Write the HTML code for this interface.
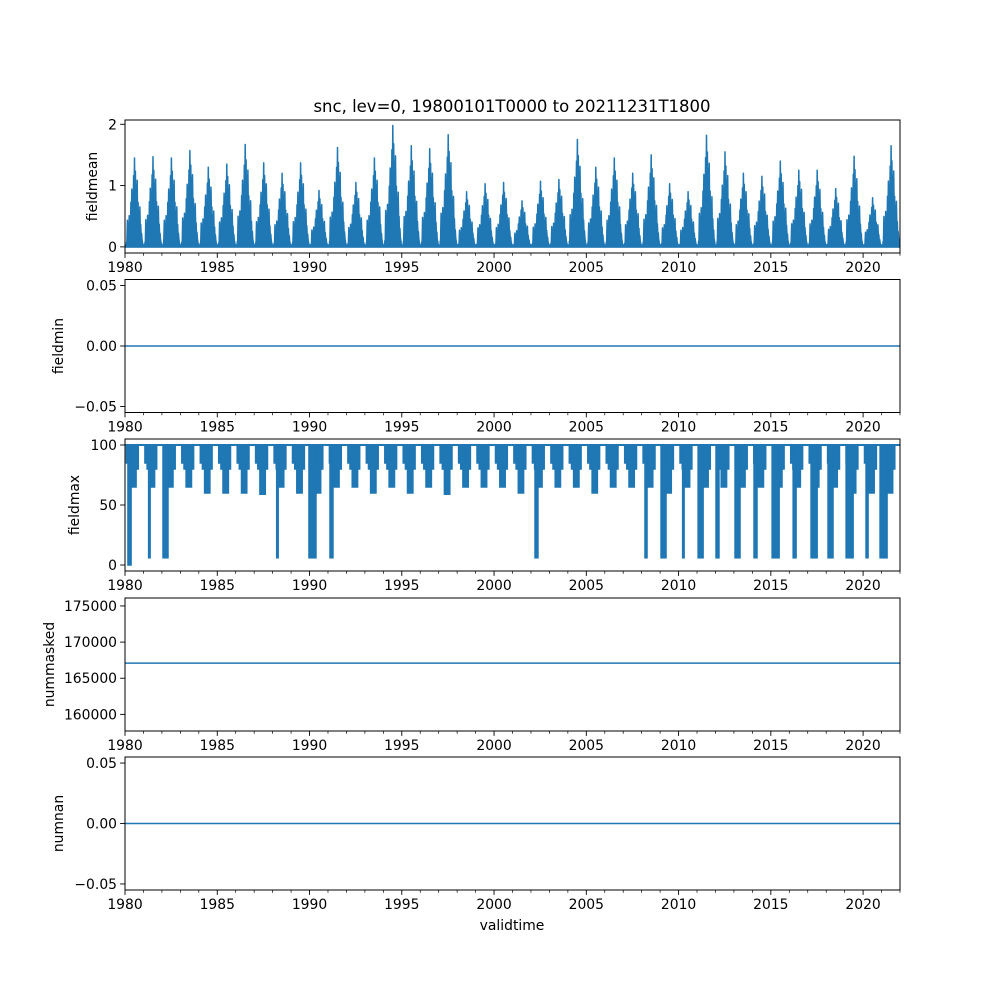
<!DOCTYPE html>
<html><head><meta charset="utf-8">
<style>
body{margin:0;background:#fff;}
svg{display:block;font-family:"DejaVu Sans","Liberation Sans",sans-serif;}
</style></head>
<body>
<svg id="fig" width="1000" height="1000" viewBox="0 0 1000 1000">
<rect width="1000" height="1000" fill="#fff"/>
<text x="512" y="112" font-size="16.5" text-anchor="middle">snc, lev=0, 19800101T0000 to 20211231T1800</text>
</svg>
<script>
// ---- data ----
const years = [1980,1981,1982,1983,1984,1985,1986,1987,1988,1989,1990,1991,1992,1993,1994,1995,1996,1997,1998,1999,2000,2001,2002,2003,2004,2005,2006,2007,2008,2009,2010,2011,2012,2013,2014,2015,2016,2017,2018,2019,2020,2021];
const meanPeaks = [1.45,1.47,1.45,1.57,1.3,1.35,1.67,1.37,1.2,1.37,0.92,1.62,1.05,1.45,1.98,1.65,1.6,1.83,0.9,1.03,1.05,0.75,1.07,1.1,1.75,1.3,1.45,1.2,1.5,1.03,0.9,1.82,1.55,1.2,1.15,1.4,1.25,1.25,0.95,1.48,0.8,1.65];
const seasonShape = [0.05,0.3,0.2,0.35,0.25,0.5,0.65,0.6,0.8,1.0,0.85,0.7,0.75,0.5,0.4,0.45,0.25,0.15,0.05];
const maxLevels = [65,65,65,65,60,60,60,59,65,60,60,65,65,60,65,60,65,59,65,65,65,60,65,65,65,60,65,65,65,60,65,65,65,65,65,65,65,65,65,60,60,60];
const maxShape = [100,85,85,80,80,0,0,0,0,0,80,80,100];
const deepStart = [1980.16,1981.28,1982.06,1988.22,1989.97,1991.11,2002.22,2008.18,2009.05,2010.22,2011.06,2012.03,2013.06,2014.09,2015.07,2016.21,2017.18,2018.10,2019.08,2020.16,2020.92];
const deepEnd   = [1980.33,1981.34,1982.33,1988.29,1990.35,1991.27,2002.38,2008.29,2009.32,2010.28,2011.33,2012.19,2013.33,2014.25,2015.45,2016.37,2017.51,2018.37,2019.46,2020.27,2021.30];
const deepMin   = [0,6,6,6,6,6,6,6,6,6,6,6,6,6,6,6,6,6,6,6,6];
const minVal = 0, nummaskedVal = 167083, numnanVal = 0;
const xTicks = [1980,1985,1990,1995,2000,2005,2010,2015,2020];

const NS='http://www.w3.org/2000/svg';
const svg=document.getElementById('fig');
const C='#1f77b4';
const L=125,R=900,X0=1980,X1=2022;
const xs=v=>L+(v-X0)/(X1-X0)*(R-L);
function el(tag,attrs,parent){const e=document.createElementNS(NS,tag);for(const k in attrs)e.setAttribute(k,attrs[k]);(parent||svg).appendChild(e);return e;}

function panel(name,top,bot,y0,y1,yticks,ylabels,ylab,draw){
  const g=el('g',{});
  
  
  const ys=v=>bot-(v-y0)/(y1-y0)*(bot-top);
  const clip=el('clipPath',{id:'c'+name},g);
  el('rect',{x:L,y:top,width:R-L,height:bot-top},clip);
  const dg=el('g',{'clip-path':'url(#c'+name+')'},g);
  
  
  draw(dg,ys);
  const fr=el('rect',{x:L,y:top,width:R-L,height:bot-top,fill:'none',stroke:'#000','stroke-width':1},g);
  
  
  for(let y=1980;y<=2022;y++){
    const x=xs(y);const maj=xTicks.includes(y);
    el('line',{x1:x,x2:x,y1:bot,y2:bot+(maj?4.9:2.8),stroke:'#000','stroke-width':maj?0.9:0.7},g);
  }
  xTicks.forEach(t=>{const tx=el('text',{x:xs(t),y:bot+19,'font-size':13.9,'text-anchor':'middle'},g);tx.textContent=t;
    
    });
  yticks.forEach((t,i)=>{const y=ys(t);el('line',{x1:L,x2:L-4.9,y1:y,y2:y,stroke:'#000','stroke-width':0.9},g);
    const tx=el('text',{x:L-8,y:y+5,'font-size':13.9,'text-anchor':'end'},g);tx.textContent=ylabels[i];
    
    });
  const lx=ylab.x,ly=(top+bot)/2;
  const yl=el('text',{x:lx,y:ly,'font-size':13.9,'text-anchor':'middle',transform:`rotate(-90 ${lx} ${ly})`},g);
  yl.textContent=ylab.t;
  
  
}

// Panel 1 fieldmean
panel('fieldmean',120,253,-0.1,2.07,[0,1,2],['0','1','2'],{x:97,t:'fieldmean'},(g,ys)=>{
  let pts=[[X0,0.03]];
  years.forEach((yr,i)=>{
    const s=yr+0.08,e=yr+0.95,n=seasonShape.length;
    pts.push([s,0.03]);
    seasonShape.forEach((f,j)=>{const t=s+(e-s)*j/(n-1);pts.push([t,f*meanPeaks[i]]);pts.push([t+0.02,f*meanPeaks[i]*0.55]);});
    pts.push([e+0.02,0.03]);
  });
  pts.push([X1,0.03]);
  const d='M'+xs(X0)+','+ys(0)+' '+pts.map(p=>'L'+xs(p[0]).toFixed(1)+','+ys(p[1]).toFixed(1)).join(' ')+' L'+xs(X1)+','+ys(0)+'Z';
  el('path',{d:d,fill:C,stroke:C,'stroke-width':1.5,'stroke-linejoin':'round'},g);
  el('line',{x1:L,x2:R,y1:ys(0.01),y2:ys(0.01),stroke:C,'stroke-width':3},g);
});

// Panel 2 fieldmin
panel('fieldmin',279.5,412.5,-0.055,0.055,[-0.05,0,0.05],['−0.05','0.00','0.05'],{x:63,t:'fieldmin'},(g,ys)=>{
  el('line',{x1:L,x2:R,y1:ys(minVal),y2:ys(minVal),stroke:C,'stroke-width':1.5},g);
});

// Panel 3 fieldmax
panel('fieldmax',439,571,-5,105,[0,50,100],['0','50','100'],{x:79,t:'fieldmax'},(g,ys)=>{
  el('line',{x1:L,x2:R,y1:ys(100),y2:ys(100),stroke:C,'stroke-width':2},g);
  years.forEach((yr,i)=>{
    const s=yr+0.02,e=yr+0.72,n=maxShape.length;
    let d='M'+xs(s)+','+ys(100);
    let prev=100;
    maxShape.forEach((v,j)=>{const t=s+(e-s)*j/(n-1);const lv=v===0?maxLevels[i]:v;
      d+=' L'+xs(t).toFixed(1)+','+ys(prev).toFixed(1)+' L'+xs(t).toFixed(1)+','+ys(lv).toFixed(1);prev=lv;});
    d+=' L'+xs(e)+','+ys(100)+'Z';
    el('path',{d:d,fill:C,stroke:C,'stroke-width':1.5},g);
  });
  deepStart.forEach((s,i)=>{
    const e=deepEnd[i];
    el('rect',{x:xs(s),y:ys(100),width:Math.max(1.5,xs(e)-xs(s)),height:ys(deepMin[i])-ys(100),fill:C,stroke:C,'stroke-width':1.5},g);
  });
});

// Panel 4 nummasked
panel('nummasked',598,731,157700,176100,[160000,165000,170000,175000],['160000','165000','170000','175000'],{x:54,t:'nummasked'},(g,ys)=>{
  el('line',{x1:L,x2:R,y1:ys(nummaskedVal),y2:ys(nummaskedVal),stroke:C,'stroke-width':1.5},g);
});

// Panel 5 numnan
panel('numnan',757,890,-0.055,0.055,[-0.05,0,0.05],['−0.05','0.00','0.05'],{x:63,t:'numnan'},(g,ys)=>{
  el('line',{x1:L,x2:R,y1:ys(numnanVal),y2:ys(numnanVal),stroke:C,'stroke-width':1.5},g);
});

const xl=el('text',{x:512,y:930,'font-size':13.9,'text-anchor':'middle'});
xl.textContent='validtime';


</script>
</body></html>
